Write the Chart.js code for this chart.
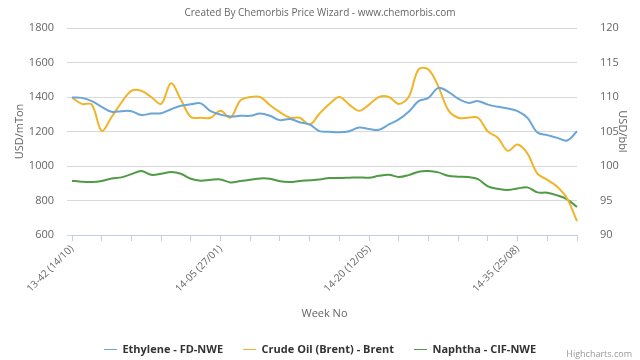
<!DOCTYPE html>
<html>
<head>
<meta charset="utf-8">
<script src="https://cdn.jsdelivr.net/npm/chart.js@4"></script>
<style>
  html, body { margin: 0; padding: 0; background: #fff; }
  #wrap { width: 640px; height: 360px; }
</style>
</head>
<body>
<div id="wrap"><canvas id="priceChart"></canvas></div>
<script>
const weeks = [
  '13-42 (14/10)', '13-43 (21/10)', '13-44 (28/10)', '13-45 (04/11)', '13-46 (11/11)', '13-47 (18/11)',
  '13-48 (25/11)', '13-49 (02/12)', '13-50 (09/12)', '13-51 (16/12)', '13-52 (23/12)', '14-01 (30/12)',
  '14-02 (06/01)', '14-03 (13/01)', '14-04 (20/01)', '14-05 (27/01)', '14-06 (03/02)', '14-07 (10/02)',
  '14-08 (17/02)', '14-09 (24/02)', '14-10 (03/03)', '14-11 (10/03)', '14-12 (17/03)', '14-13 (24/03)',
  '14-14 (31/03)', '14-15 (07/04)', '14-16 (14/04)', '14-17 (21/04)', '14-18 (28/04)', '14-19 (05/05)',
  '14-20 (12/05)', '14-21 (19/05)', '14-22 (26/05)', '14-23 (02/06)', '14-24 (09/06)', '14-25 (16/06)',
  '14-26 (23/06)', '14-27 (30/06)', '14-28 (07/07)', '14-29 (14/07)', '14-30 (21/07)', '14-31 (28/07)',
  '14-32 (04/08)', '14-33 (11/08)', '14-34 (18/08)', '14-35 (25/08)', '14-36 (01/09)', '14-37 (08/09)',
  '14-38 (15/09)', '14-39 (22/09)', '14-40 (29/09)', '14-41 (06/10)'
];

// USD/mTon
const ethylene = [
  1397, 1395, 1376, 1343, 1314, 1318, 1318, 1295, 1304, 1306, 1329, 1349, 1358,
  1363, 1318, 1298, 1287, 1291, 1291, 1304, 1291, 1266, 1273, 1254, 1241, 1202,
  1198, 1196, 1202, 1223, 1215, 1210, 1241, 1270, 1314, 1376, 1395, 1453, 1430,
  1390, 1366, 1376, 1356, 1343, 1333, 1318, 1279, 1194, 1179, 1163, 1148, 1202
];

// USD/bbl
const crudeOil = [
  109.9, 109.0, 108.9, 105.1, 107.1, 109.2, 110.9, 110.9, 110.0, 109.0, 112.0, 109.6, 107.1,
  107.0, 107.0, 108.0, 107.0, 109.5, 110.0, 110.0, 108.8, 107.8, 107.0, 107.0, 106.0, 107.6,
  109.0, 110.0, 108.9, 108.0, 108.9, 110.0, 110.0, 109.0, 110.0, 114.0, 114.0, 111.5, 108.1,
  107.0, 107.0, 107.0, 105.0, 104.1, 102.2, 103.1, 101.8, 98.9, 98.0, 97.0, 95.3, 92.0
];

// USD/mTon
const naphtha = [
  915, 909, 907, 913, 928, 934, 953, 971, 949, 955, 965, 955, 926,
  915, 920, 922, 905, 913, 920, 928, 926, 911, 907, 913, 917, 922,
  930, 930, 932, 934, 932, 943, 949, 936, 947, 967, 971, 963, 943,
  938, 936, 924, 882, 868, 861, 870, 876, 847, 845, 830, 807, 762
];

const FONT = "'Open Sans', 'DejaVu Sans', sans-serif";
Chart.defaults.font.family = FONT;
Chart.defaults.color = '#666';

// legend keeps its wide item spacing but only takes a short strip at the bottom
const legendHeight = {
  id: 'legendHeight',
  beforeLayout(chart) {
    const lg = chart.legend;
    if (!lg || lg._fixedHeight) return;
    const fit = lg.fit.bind(lg);
    lg.fit = function () {
      fit();
      this.height = 36;
    };
    lg._fixedHeight = true;
  }
};

const credits = {
  id: 'credits',
  afterDraw(chart) {
    const ctx = chart.ctx;
    ctx.save();
    ctx.font = '9px ' + FONT;
    ctx.fillStyle = '#999';
    ctx.textAlign = 'right';
    ctx.textBaseline = 'middle';
    ctx.fillText('Highcharts.com', 632, 354);
    ctx.restore();
  }
};

new Chart(document.getElementById('priceChart'), {
  type: 'line',
  data: {
    labels: weeks,
    datasets: [
      { label: 'Ethylene - FD-NWE', data: ethylene, borderColor: '#6aa5d8', yAxisID: 'y' },
      { label: 'Crude Oil (Brent) - Brent', data: crudeOil, borderColor: '#f0b429', yAxisID: 'y1' },
      { label: 'Naphtha - CIF-NWE', data: naphtha, borderColor: '#4f9a45', yAxisID: 'y' }
    ]
  },
  options: {
    responsive: true,
    maintainAspectRatio: false,
    animation: false,
    layout: { padding: 0 },
    elements: {
      line: { borderWidth: 2, tension: 0.35, fill: false },
      point: { radius: 0, hoverRadius: 0 }
    },
    plugins: {
      title: {
        display: true,
        text: 'Created By Chemorbis Price Wizard - www.chemorbis.com',
        color: '#666',
        font: { size: 10, weight: 'normal' },
        padding: { top: 7, bottom: 9 }
      },
      legend: {
        position: 'bottom',
        labels: {
          usePointStyle: true,
          pointStyle: 'line',
          pointStyleWidth: 13,
          boxHeight: 11,
          padding: 20,
          color: '#333',
          font: { size: 11, weight: 'bold' }
        }
      },
      tooltip: { enabled: false }
    },
    scales: {
      x: {
        afterFit(scale) { scale.height = 89; },
        grid: { drawOnChartArea: false, drawTicks: true, tickLength: 6, color: '#c0d0e0' },
        border: { color: '#c0d0e0' },
        ticks: {
          autoSkip: false,
          minRotation: 45,
          maxRotation: 45,
          padding: 2,
          font: { size: 10 },
          callback(value, index) {
            if (index % 3) return null;
            return index % 15 ? '' : weeks[index];
          }
        },
        title: { display: true, text: 'Week No', font: { size: 11 }, padding: { top: 0, bottom: 4 } }
      },
      y: {
        position: 'left',
        min: 600,
        max: 1800,
        afterFit(scale) { scale.width = 72; },
        grid: { color: '#d8d8d8', tickLength: 5 },
        border: { display: false },
        ticks: { stepSize: 200, padding: 13, font: { size: 11 }, callback: (v) => v },
        title: { display: true, text: 'USD/mTon', font: { size: 11 }, padding: { top: 13, bottom: 0 } }
      },
      y1: {
        position: 'right',
        min: 90,
        max: 120,
        afterFit(scale) { scale.width = 63; },
        grid: { display: false },
        border: { display: false },
        ticks: { stepSize: 5, padding: 15, font: { size: 11 }, callback: (v) => v },
        title: { display: true, text: 'USD/bbl', font: { size: 11 }, padding: { top: 11, bottom: 0 } }
      }
    }
  },
  plugins: [legendHeight, credits]
});
</script>
</body>
</html>
